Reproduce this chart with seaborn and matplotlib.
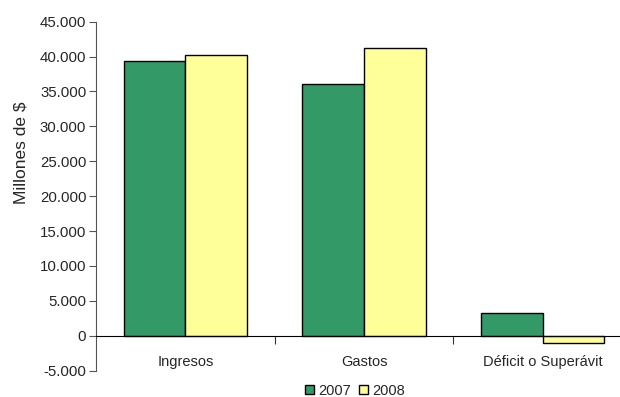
import pandas as pd
import matplotlib
matplotlib.use("Agg")
import matplotlib.pyplot as plt
import seaborn as sns
from matplotlib.ticker import FuncFormatter, FixedLocator
from matplotlib.patches import Patch

# Datos
categorias = ["Ingresos", "Gastos", "Déficit o Superávit"]
anios = ["2007", "2008"]
valores_2007 = [39400, 36100, 3300]
valores_2008 = [40200, 41200, -1000]
colores = ["#339966", "#FFFF99"]

df = pd.DataFrame({
    "categoria": categorias * 2,
    "anio": [anios[0]] * 3 + [anios[1]] * 3,
    "valor": valores_2007 + valores_2008,
})

sns.set_style("white")
plt.rcParams["font.family"] = ["Liberation Sans", "DejaVu Sans"]
plt.rcParams["font.size"] = 10.5

fig = plt.figure(figsize=(6.2, 3.97), dpi=100)
ax = fig.add_axes([96 / 620, 1 - 370.6 / 397, (632 - 96) / 620, (370.6 - 21.7) / 397])

sns.barplot(data=df, x="categoria", y="valor", hue="anio", order=categorias,
            palette=colores, width=0.69, edgecolor="black",
            linewidth=1, saturation=1, ax=ax, legend=False)

ax.set_xlim(-0.5, 2.5)
ax.set_ylim(-5000, 45000)
ax.set_yticks(range(-5000, 45001, 5000))
ax.yaxis.set_major_formatter(FuncFormatter(lambda v, p: f"{int(v):,}".replace(",", ".")))
ax.tick_params(axis="y", direction="out", length=5, color="#555555", left=True, pad=2,
               labelsize=10.8)

# eje x en el cero, marcas entre categorias
for s in ["top", "right"]:
    ax.spines[s].set_visible(False)
ax.spines["bottom"].set_position(("data", 0))
ax.spines["bottom"].set_color("black")
ax.spines["left"].set_color("#555555")
ax.xaxis.set_major_locator(FixedLocator([0.5, 1.5]))
ax.xaxis.set_major_formatter(FuncFormatter(lambda v, p: ""))
ax.xaxis.set_minor_locator(FixedLocator([0, 1, 2]))
ax.set_xticklabels(categorias, minor=True)
ax.tick_params(axis="x", which="major", direction="out", length=6, color="#333333", bottom=True)
ax.tick_params(axis="x", which="minor", length=0, pad=14)
ax.set_xlabel("")
ax.set_ylabel("Millones de $", fontsize=12.5)
ax.yaxis.set_label_coords(-0.125, 0.624)

handles = [Patch(facecolor=colores[0], edgecolor="black", label=anios[0]),
           Patch(facecolor=colores[1], edgecolor="black", label=anios[1])]
fig.legend(handles=handles, loc="lower center", bbox_to_anchor=(355 / 620, -0.035), ncol=2,
           frameon=False, handlelength=0.6, handleheight=0.6, handletextpad=0.25,
           columnspacing=0.6, fontsize=10.5)

fig.savefig("out.png", dpi=100)
